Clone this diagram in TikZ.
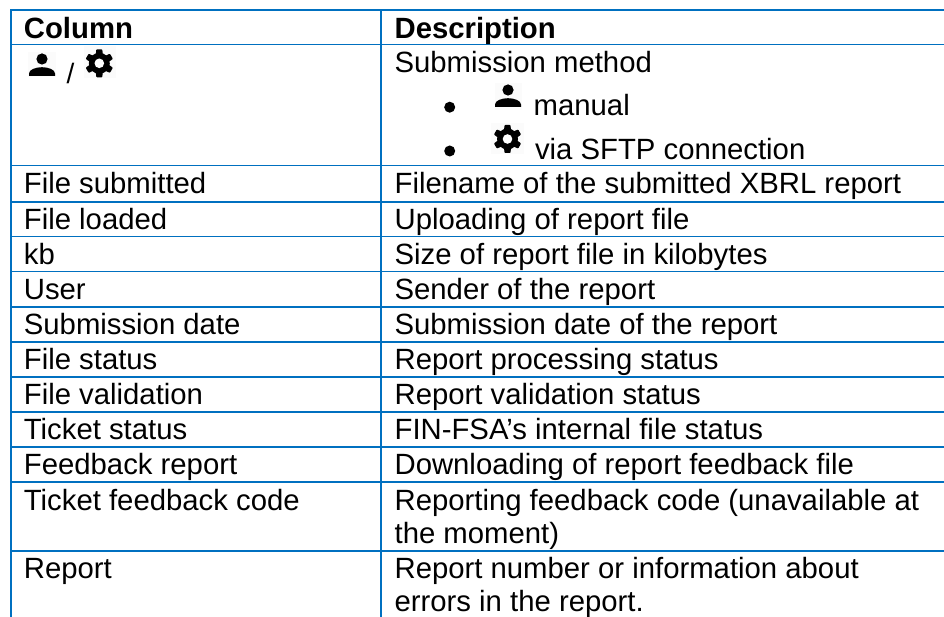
\documentclass[tikz,border=0pt]{standalone}
\usepackage{fontspec}
\setmainfont{Liberation Sans}
\definecolor{ruleblue}{HTML}{0070C0}
\definecolor{iconbg}{HTML}{FBFBFB}
\tikzset{
  x=1pt,y=-1pt,
  rulesty/.style={draw=ruleblue,line width=1.7pt},
  cell/.style={anchor=base west,inner sep=0pt,outer sep=0pt,font=\fontsize{29.3}{33.5}\selectfont,text=black},
  headcell/.style={cell,font=\fontsize{29.3}{33.5}\selectfont\bfseries},
  personicon/.pic={
    \fill[black] (0,-6) circle[radius=5.6];
    \fill[black] (-13,11) -- (-13,8.5) .. controls (-13,4.5) and (-6,2.2) .. (0,2.2)
      .. controls (6,2.2) and (13,4.5) .. (13,8.5) -- (13,11) -- cycle;
  },
  gearicon/.pic={
    \fill[black] (0,0) circle[radius=10.5];
    \foreach \a in {30,90,150,210,270,330}{
      \fill[black,rotate=\a,rounded corners=0.8pt] (7.5,-3.6) -- (14,-3) -- (14,3) -- (7.5,3.6) -- cycle;
    }
    \fill[white] (0,0) circle[radius=4.8];
  }
}
\begin{document}
\begin{tikzpicture}
\useasboundingbox (0,0) rectangle (944,617);
\fill[white] (0,0) rectangle (944,617);
% table rules
\foreach \yy in {10,44.5,165.5,201.7,236.4,271.6,306.8,341.8,376.8,411.8,446.7,481.7,550.7}{
  \draw[rulesty] (10.2,\yy) -- (944,\yy);
}
\draw[rulesty] (11,9.2) -- (11,617);
\draw[rulesty] (381,9.2) -- (381,617);
% icon backgrounds
\fill[iconbg] (28,52) rectangle (56,77);
\fill[white] (83.5,45) rectangle (120,46.5);
\fill[iconbg] (83.5,46.5) rectangle (116,78);
\fill[iconbg] (494.7,83.3) rectangle (522,110);
\fill[iconbg] (491,123.3) rectangle (524.3,154.3);
% icons
\pic at (42,65) {personicon};
\pic at (99.3,63.3) {gearicon};
\pic at (508,96) {personicon};
\pic at (507.5,139) {gearicon};
% bullets
\fill[black] (449.7,107.2) circle[radius=5.5];
\fill[black] (449.7,151) circle[radius=5.5];
% header
\node[headcell] (h1) at (23.9,38.7) {Column};
\node[headcell] (h2) at (394.6,38.7) {Description};
% first row
\node[cell,font=\fontsize{28}{30}\selectfont] (slash) at (66.5,83.5) {/};
\node[cell] (d0) at (394.6,72.7) {Submission method};
\node[cell] (d0a) at (533.7,115.7) {manual};
\node[cell] (d0b) at (535,160) {via SFTP connection};
% rows
\node[cell] (c1) at (23.9,193.3) {File submitted};
\node[cell] (d1) at (394.6,193.3) {Filename of the submitted XBRL report};
\node[cell] (c2) at (23.9,229.3) {File loaded};
\node[cell] (d2) at (394.6,229.3) {Uploading of report file};
\node[cell] (c3) at (23.9,264.3) {kb};
\node[cell] (d3) at (394.6,264.3) {Size of report file in kilobytes};
\node[cell] (c4) at (23.9,299.3) {User};
\node[cell] (d4) at (394.6,299.3) {Sender of the report};
\node[cell] (c5) at (23.9,334.3) {Submission date};
\node[cell] (d5) at (394.6,334.3) {Submission date of the report};
\node[cell] (c6) at (23.9,369.3) {File status};
\node[cell] (d6) at (394.6,369.3) {Report processing status};
\node[cell] (c7) at (23.9,404.3) {File validation};
\node[cell] (d7) at (394.6,404.3) {Report validation status};
\node[cell] (c8) at (23.9,439.3) {Ticket status};
\node[cell] (d8) at (394.6,439.3) {FIN-FSA’s internal file status};
\node[cell] (c9) at (23.9,474.3) {Feedback report};
\node[cell] (d9) at (394.6,474.3) {Downloading of report feedback file};
\node[cell] (c10) at (23.9,510.7) {Ticket feedback code};
\node[cell] (d10) at (394.6,510.7) {Reporting feedback code (unavailable at};
\node[cell] (d10b) at (394.6,543.7) {the moment)};
\node[cell] (c11) at (23.9,578.2) {Report};
\node[cell] (d11) at (394.6,578.2) {Report number or information about};
\node[cell] (d11b) at (394.6,611.7) {errors in the report.};
\end{tikzpicture}
\end{document}
